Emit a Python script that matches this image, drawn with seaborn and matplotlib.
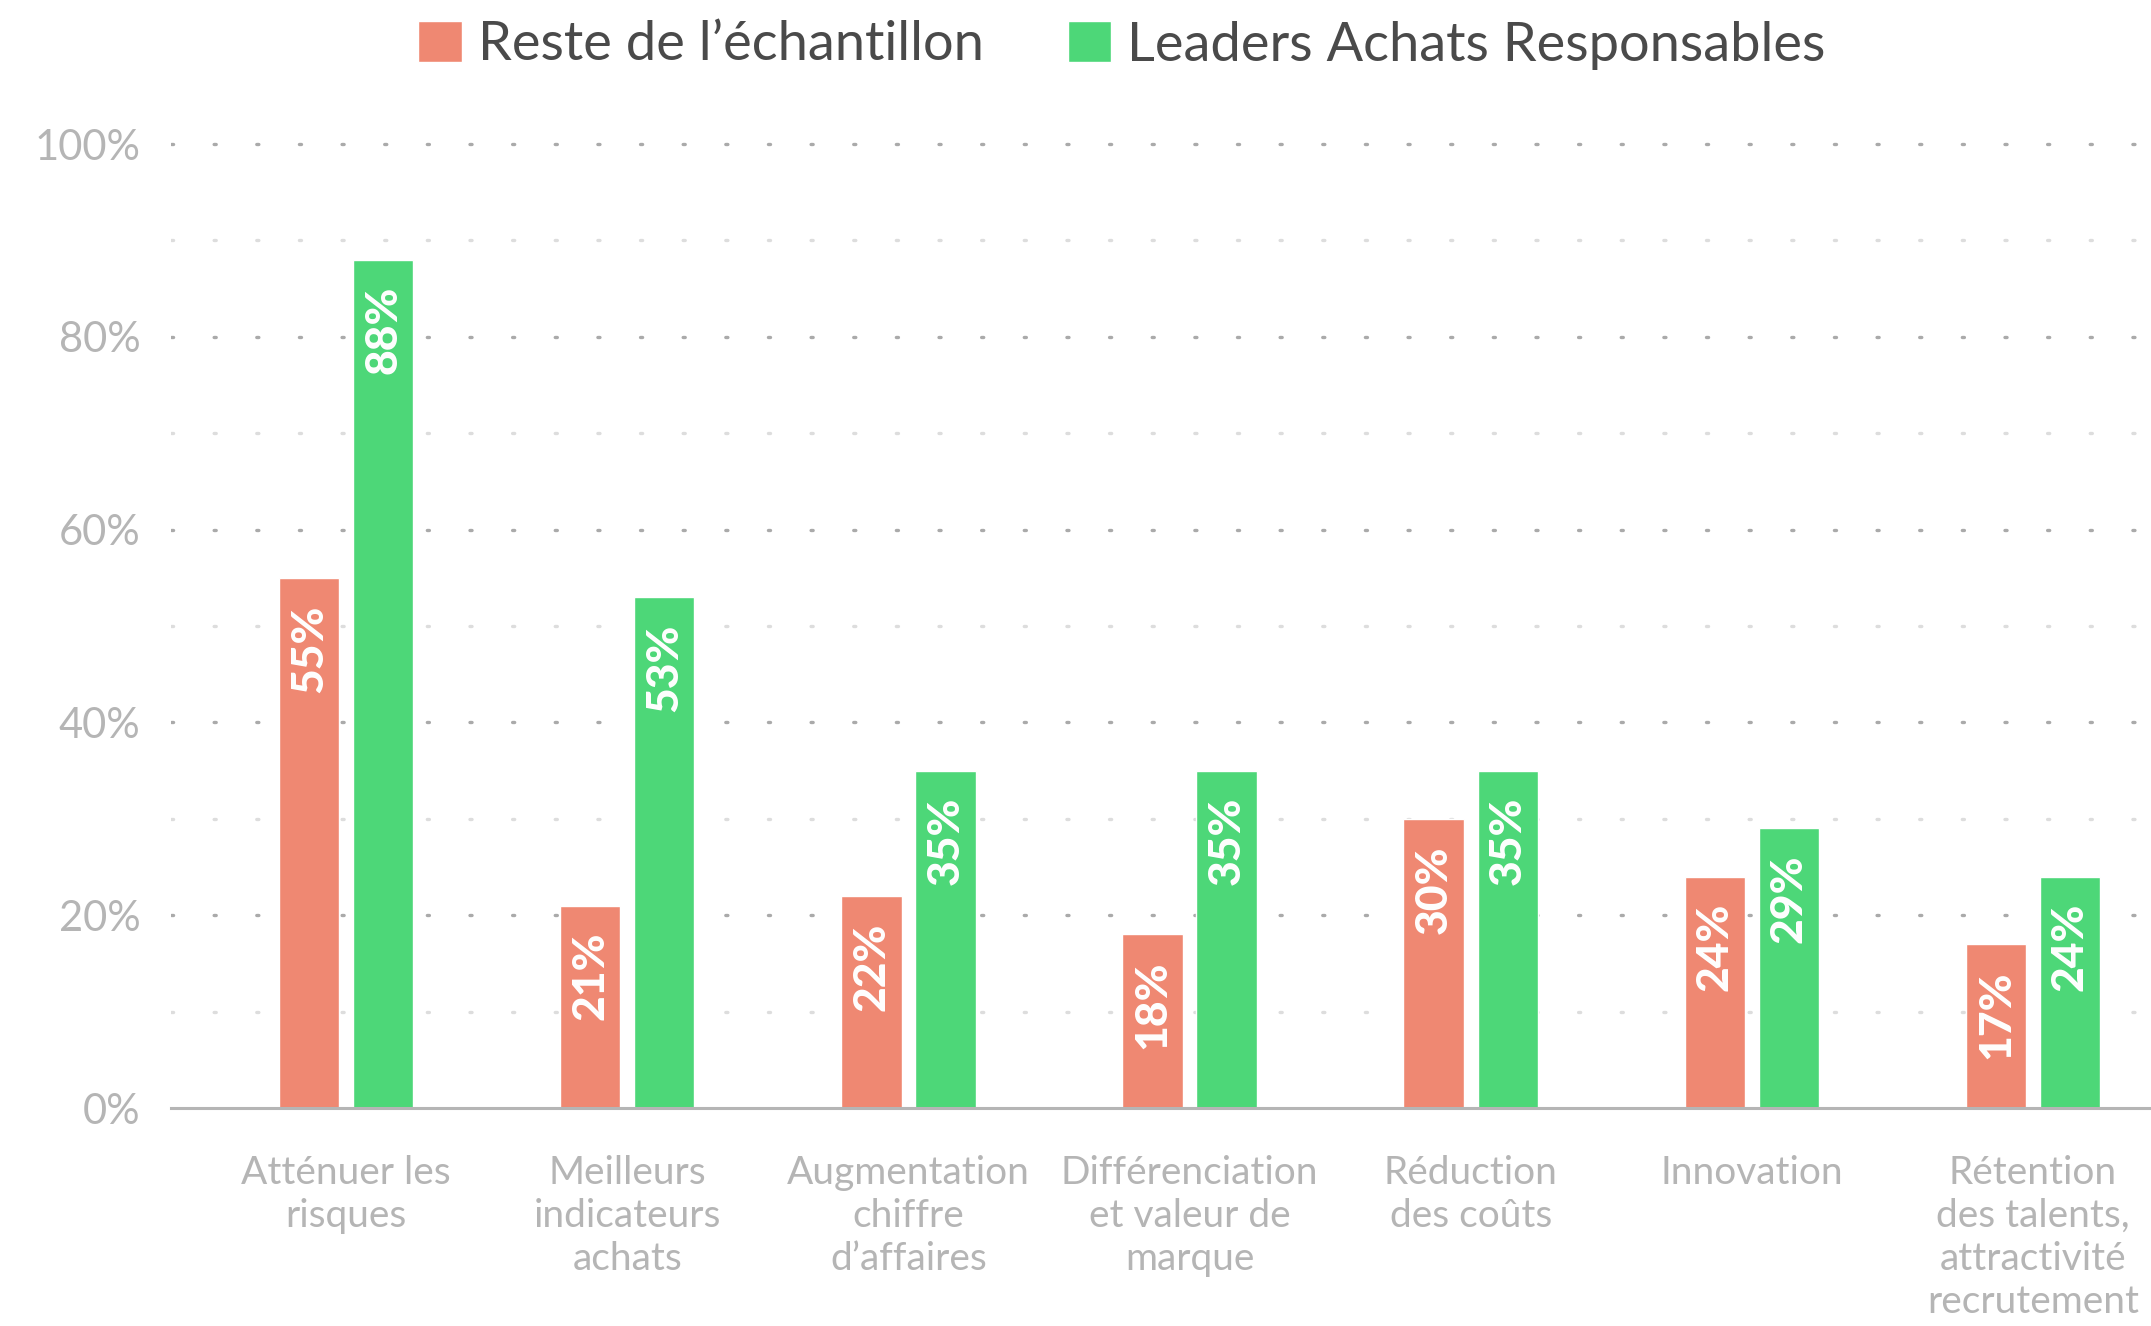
import matplotlib
matplotlib.use("Agg")
import matplotlib.pyplot as plt
import seaborn as sns
import pandas as pd

categories = [
    "Atténuer les\nrisques",
    "Meilleurs\nindicateurs\nachats",
    "Augmentation\nchiffre\nd’affaires",
    "Différenciation\net valeur de\nmarque",
    "Réduction\ndes coûts",
    "Innovation",
    "Rétention\ndes talents,\nattractivité\nrecrutement",
]
series = ["Reste de l’échantillon", "Leaders Achats Responsables"]
reste = [55, 21, 22, 18, 30, 24, 17]
leaders = [88, 53, 35, 35, 35, 29, 24]
yticks = [0, 20, 40, 60, 80, 100]
ytick_labels = ["0%", "20%", "40%", "60%", "80%", "100%"]
minor_ticks = [10, 30, 50, 70, 90]

colors = ["#EF8872", "#4DD778"]

df = pd.DataFrame({
    "cat": categories * 2,
    "val": reste + leaders,
    "serie": [series[0]] * len(categories) + [series[1]] * len(categories),
})

sns.set_theme(style="white")
plt.rcParams["font.family"] = ["Lato", "DejaVu Sans"]
plt.rcParams["lines.scale_dashes"] = False

W, H, DPI = 2151, 1326, 100
fig = plt.figure(figsize=(W / DPI, H / DPI), dpi=DPI)
ax = fig.add_axes([171 / W, 1 - 1108 / H, 1 - 171 / W, (1108 - 134.4) / H])

sns.barplot(data=df, x="cat", y="val", hue="serie", palette=colors,
            width=0.527, gap=0.185, ax=ax, zorder=3, legend=True, saturation=1)

ax.set_ylim(0, 101)
ax.set_xlim(-0.623, 6.42)

# dotted grid
for v in yticks[1:]:
    ax.axhline(v, color="#aaaaaa", lw=2.4, ls=(0, (1.5, 29.2)),
               dash_capstyle="round", zorder=1)
for v in minor_ticks:
    ax.axhline(v, color="#dddddd", lw=2.4, ls=(0, (1.5, 29.2)),
               dash_capstyle="round", zorder=1)

ax.set_yticks(yticks)
ax.set_yticklabels(ytick_labels)
ax.tick_params(axis="y", length=0, pad=22, labelsize=30, labelcolor="#b5b5b5")
ax.tick_params(axis="x", length=0, pad=34, labelsize=28, labelcolor="#b5b5b5")
for lab in ax.get_xticklabels():
    lab.set_linespacing(1.24)

ax.set_xlabel("")
ax.set_ylabel("")
for s in ["top", "right", "left"]:
    ax.spines[s].set_visible(False)
ax.spines["bottom"].set_color("#b5b5b5")
ax.spines["bottom"].set_linewidth(2.2)
ax.spines["bottom"].set_zorder(4)

# value labels inside bars
for cont, vals in zip(ax.containers, [reste, leaders]):
    for patch, v in zip(cont.patches, vals):
        x = patch.get_x() + patch.get_width() / 2
        y = patch.get_height()
        ax.annotate(f"{v}%", (x, y), xytext=(0, -19), textcoords="offset points",
                    ha="center", va="top", rotation=90, color="white",
                    fontsize=32, fontweight="black", zorder=5)

handles, labels = ax.get_legend_handles_labels()
ax.legend(handles, labels, loc="center", bbox_to_anchor=(1122 / W, 1 - 45 / H),
          bbox_transform=fig.transFigure, ncol=2, frameon=False, fontsize=39,
          handlelength=0.8, handleheight=0.8, handletextpad=0.3,
          columnspacing=1.55, labelcolor="#4a4a4a")

fig.savefig("out.png", dpi=DPI, facecolor="white")
